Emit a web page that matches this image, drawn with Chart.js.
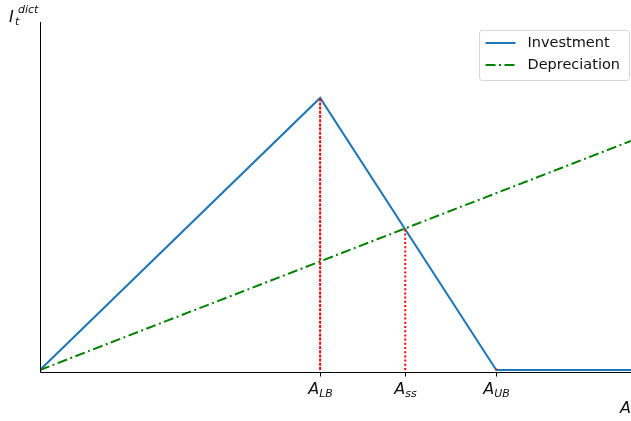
<!DOCTYPE html>
<html>
<head>
<meta charset="utf-8">
<script src="https://cdn.jsdelivr.net/npm/chart.js@4/dist/chart.umd.min.js"></script>
<style>
  html, body { margin: 0; padding: 0; background: #fff; }
  #wrap { width: 631px; height: 421px; }
</style>
</head>
<body>
<div id="wrap"><canvas id="c" width="631" height="421"></canvas></div>
<script>
// Capital stock A on the horizontal axis
const aMax = 10;
const aLB = 4.74;   // lower bound
const aSS = 6.18;   // steady state
const aUB = 7.72;   // upper bound

// Investment: rises to its peak at A_LB, falls to zero at A_UB, then stays flat
const investmentX = [0, aLB, aUB, aMax];
const investmentY = [0, 10, 0, 0];

// Depreciation grows linearly with A
const depreciationX = [0, aMax];
const depreciationY = [0, 8.42];

// Height of the investment curve where it meets depreciation
const ssLevel = 5.2;

// Tick labels: base letter and subscript
const tickPositions = [aLB, aSS, aUB];
const tickSubs = ['LB', 'ss', 'UB'];

const seriesNames = ['Investment', 'Depreciation'];

const pts = (xs, ys) => xs.map((x, i) => ({ x: x, y: ys[i] }));

const FONT = '"DejaVu Sans", sans-serif';

// Spines, tick marks, math-style labels and the legend box
const decor = {
  id: 'decor',
  afterDraw(chart) {
    const { ctx, chartArea: a, scales: { x, y } } = chart;
    ctx.save();
    ctx.strokeStyle = '#000';
    ctx.lineWidth = 1;
    const L = Math.round(a.left) + 0.5, B = Math.round(a.bottom) + 0.5;
    ctx.beginPath();
    ctx.moveTo(L, a.top);
    ctx.lineTo(L, B);
    ctx.lineTo(a.right, B);
    ctx.stroke();

    // tick marks and labels
    ctx.fillStyle = '#111';
    tickPositions.forEach((v, i) => {
      const px = Math.round(x.getPixelForValue(v)) + 0.5;
      ctx.beginPath();
      ctx.moveTo(px, B);
      ctx.lineTo(px, B + 4);
      ctx.stroke();
      ctx.font = 'oblique 16px ' + FONT;
      const wA = ctx.measureText('A').width;
      ctx.font = 'oblique 11px ' + FONT;
      const wS = ctx.measureText(tickSubs[i]).width;
      const start = px - (wA + wS) / 2;
      ctx.textBaseline = 'alphabetic';
      ctx.textAlign = 'left';
      ctx.font = 'oblique 16px ' + FONT;
      ctx.fillText('A', start, a.bottom + 22);
      ctx.font = 'oblique 11px ' + FONT;
      ctx.fillText(tickSubs[i], start + wA, a.bottom + 25);
    });

    // axis titles
    ctx.font = 'oblique 16px ' + FONT;
    ctx.fillText('A', 620, 413);
    ctx.fillText('I', 9, 22);
    ctx.font = 'oblique 11px ' + FONT;
    ctx.fillText('dict', 18, 13);
    ctx.fillText('t', 15, 25);

    // legend
    const lx = 479.5, ly = 30.5, lw = 150, lh = 50;
    ctx.fillStyle = 'rgba(255,255,255,0.8)';
    ctx.strokeStyle = '#d5d5d5';
    ctx.lineWidth = 1;
    ctx.beginPath();
    ctx.roundRect(lx, ly, lw, lh, 3);
    ctx.fill();
    ctx.stroke();
    const items = [
      { color: '#1f77b4', dash: [] },
      { color: '#008000', dash: [10, 3.5, 2, 3.5] }
    ];
    items.forEach((it, i) => {
      const yy = ly + 12.5 + i * 22;
      ctx.strokeStyle = it.color;
      ctx.lineWidth = 2;
      ctx.setLineDash(it.dash);
      ctx.beginPath();
      ctx.moveTo(lx + 6, yy);
      ctx.lineTo(lx + 36, yy);
      ctx.stroke();
      ctx.setLineDash([]);
      ctx.fillStyle = '#111';
      ctx.font = '14.5px ' + FONT;
      ctx.textBaseline = 'middle';
      ctx.fillText(seriesNames[i], lx + 48, yy);
    });
    ctx.restore();
  }
};

new Chart(document.getElementById('c'), {
  type: 'line',
  data: {
    datasets: [
      {
        label: 'lb-marker',
        data: pts([aLB, aLB], [0, investmentY[1]]),
        borderColor: '#ff0000', borderWidth: 2, borderDash: [3, 1.2],
        pointRadius: 0, order: 0
      },
      {
        label: 'ss-marker',
        data: pts([aSS, aSS], [0, ssLevel]),
        borderColor: '#ff0000', borderWidth: 2, borderDash: [2, 2.2],
        pointRadius: 0, order: 0
      },
      {
        label: 'ub-marker',
        data: pts([aUB, aUB], [0, 0.05]),
        borderColor: '#ff0000', borderWidth: 2,
        pointRadius: 0, order: 0
      },
      {
        label: seriesNames[0],
        data: pts(investmentX, investmentY),
        borderColor: '#1f77b4', borderWidth: 2,
        pointRadius: 0, order: 2
      },
      {
        label: seriesNames[1],
        data: pts(depreciationX, depreciationY),
        borderColor: '#008000', borderWidth: 2, borderDash: [10, 3.5, 2, 3.5],
        pointRadius: 0, order: 1
      }
    ]
  },
  options: {
    responsive: false,
    animation: false,
    layout: { padding: { left: 40, right: 0, top: 22, bottom: 49 } },
    plugins: { legend: { display: false }, tooltip: { enabled: false } },
    elements: { line: { tension: 0, borderCapStyle: 'butt' } },
    scales: {
      x: { type: 'linear', min: 0, max: aMax, display: false },
      y: { type: 'linear', min: -0.074, max: 12.79, display: false }
    }
  },
  plugins: [decor]
});
</script>
</body>
</html>
